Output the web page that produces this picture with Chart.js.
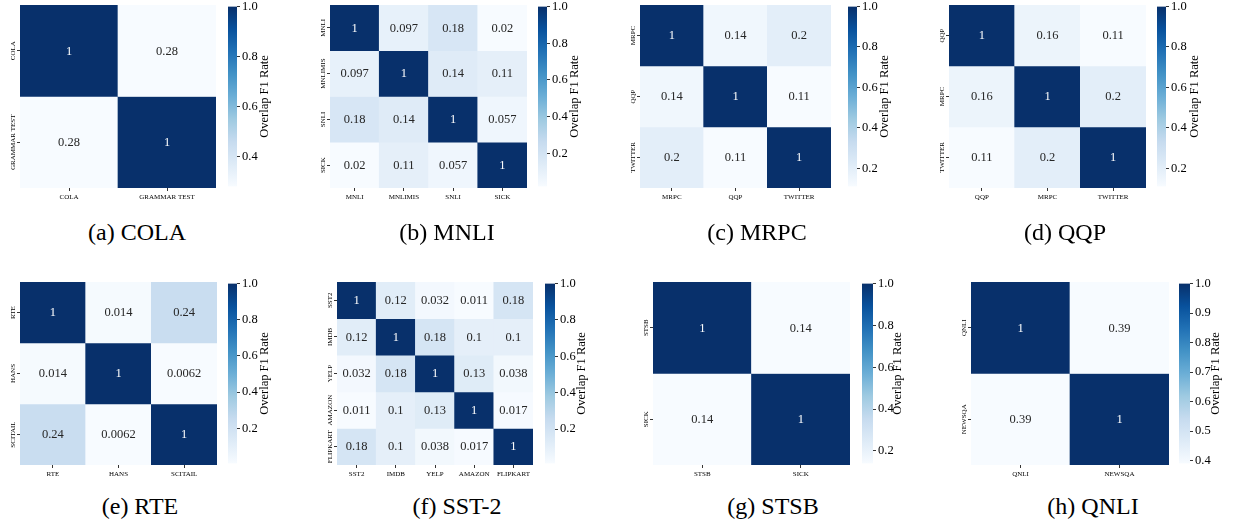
<!DOCTYPE html>
<html>
<head>
<meta charset="utf-8">
<script src="https://cdn.jsdelivr.net/npm/chart.js@4.4.1/dist/chart.umd.min.js"></script>
<style>
  body { margin: 0; background: #fff; }
  #fig { position: relative; width: 1233px; height: 526px; overflow: hidden; background: #fff; }
  canvas { position: absolute; }
  .cap { position: absolute; width: 240px; text-align: center; font: 24px/24px "Liberation Serif", "Times New Roman", serif; color: #000; white-space: pre; }
</style>
</head>
<body>
<div id="fig"></div>
<script>
const colaLabels = ["COLA", "GRAMMAR TEST"];
const colaValues = [[1, 0.28], [0.28, 1]];

const mnliLabels = ["MNLI", "MNLIMIS", "SNLI", "SICK"];
const mnliValues = [
    [1, 0.097, 0.18, 0.02],
    [0.097, 1, 0.14, 0.11],
    [0.18, 0.14, 1, 0.057],
    [0.02, 0.11, 0.057, 1],
];

const mrpcLabels = ["MRPC", "QQP", "TWITTER"];
const mrpcValues = [[1, 0.14, 0.2], [0.14, 1, 0.11], [0.2, 0.11, 1]];

const qqpLabels = ["QQP", "MRPC", "TWITTER"];
const qqpValues = [[1, 0.16, 0.11], [0.16, 1, 0.2], [0.11, 0.2, 1]];

const rteLabels = ["RTE", "HANS", "SCITAIL"];
const rteValues = [[1, 0.014, 0.24], [0.014, 1, 0.0062], [0.24, 0.0062, 1]];

const sstLabels = ["SST2", "IMDB", "YELP", "AMAZON", "FLIPKART"];
const sstValues = [
    [1, 0.12, 0.032, 0.011, 0.18],
    [0.12, 1, 0.18, 0.1, 0.1],
    [0.032, 0.18, 1, 0.13, 0.038],
    [0.011, 0.1, 0.13, 1, 0.017],
    [0.18, 0.1, 0.038, 0.017, 1],
];

const stsbLabels = ["STSB", "SICK"];
const stsbValues = [[1, 0.14], [0.14, 1]];

const qnliLabels = ["QNLI", "NEWSQA"];
const qnliValues = [[1, 0.39], [0.39, 1]];

// colorbar tick labels
const ticksFrom04 = [0.4, 0.6, 0.8, 1.0];
const ticksFrom02 = [0.2, 0.4, 0.6, 0.8, 1.0];
const ticksQnli = [0.4, 0.5, 0.6, 0.7, 0.8, 0.9, 1.0];

const captions = ["(a) COLA", "(b) MNLI", "(c) MRPC", "(d) QQP", "(e) RTE", "(f) SST-2", "(g) STSB", "(h) QNLI"];

const blues = ["#f7fbff", "#deebf7", "#c6dbef", "#9ecae1", "#6baed6", "#4292c6", "#2171b5", "#08519c", "#08306b"];
const serif = "'Liberation Serif', 'Times New Roman', serif";

// layout of each panel (heatmap box, colorbar, caption)
const panels = [
    { labels: colaLabels, values: colaValues, ticks: ticksFrom04, x: 20, y: 5, w: 196, h: 183, cbX: 228, cbW: 9, titleOff: 28, capX: 137 },
    { labels: mnliLabels, values: mnliValues, ticks: ticksFrom02, x: 330, y: 5, w: 197, h: 183, cbX: 538, cbW: 9, titleOff: 28, capX: 447 },
    { labels: mrpcLabels, values: mrpcValues, ticks: ticksFrom02, x: 640, y: 5, w: 191, h: 183, cbX: 848, cbW: 9, titleOff: 28, capX: 757 },
    { labels: qqpLabels, values: qqpValues, ticks: ticksFrom02, x: 949, y: 5, w: 197, h: 183, cbX: 1157, cbW: 9, titleOff: 29, capX: 1065 },
    { labels: rteLabels, values: rteValues, ticks: ticksFrom02, x: 20, y: 282, w: 197, h: 183, cbX: 228, cbW: 9, titleOff: 28, capX: 140 },
    { labels: sstLabels, values: sstValues, ticks: ticksFrom02, x: 337, y: 282, w: 196, h: 183, cbX: 545, cbW: 10, titleOff: 27, capX: 457 },
    { labels: stsbLabels, values: stsbValues, ticks: ticksFrom02, x: 653, y: 282, w: 197, h: 183, cbX: 862, cbW: 11, titleOff: 25, capX: 773 },
    { labels: qnliLabels, values: qnliValues, ticks: ticksQnli, x: 971, y: 282, w: 198, h: 183, cbX: 1179, cbW: 11, titleOff: 26, capX: 1093 },
];

const fig = document.getElementById("fig");

function addCanvas(left, top, width, height) {
    const c = document.createElement("canvas");
    c.width = width;
    c.height = height;
    c.style.left = left + "px";
    c.style.top = top + "px";
    c.style.width = width + "px";
    c.style.height = height + "px";
    fig.appendChild(c);
    return c;
}

function rgb(hex) {
    return [1, 3, 5].map((k) => parseInt(hex.slice(k, k + 2), 16));
}

function blue(t) {
    t = Math.min(1, Math.max(0, t));
    const p = t * (blues.length - 1);
    const i = Math.min(Math.floor(p), blues.length - 2);
    const f = p - i;
    const a = rgb(blues[i]);
    const b = rgb(blues[i + 1]);
    return "rgb(" + a.map((v, k) => Math.round(v + (b[k] - v) * f)).join(",") + ")";
}

function fmt(v) {
    return String(Number(v.toPrecision(2)));
}

const tickGrid = {
    display: true,
    offset: false,
    drawOnChartArea: false,
    drawTicks: true,
    tickLength: 3,
    color: "#000",
    lineWidth: 0.8,
};

function heatmap(p) {
    const n = p.labels.length;
    const vmin = Math.min(...p.values.flat());
    const canvas = addCanvas(p.x - 25, p.y - 5, p.w + 30, p.h + 25);

    const cellText = {
        id: "cellText",
        afterDatasetsDraw(chart) {
            const ctx = chart.ctx;
            ctx.save();
            ctx.font = "12.5px " + serif;
            ctx.textAlign = "center";
            ctx.textBaseline = "middle";
            p.values.forEach((row, i) => {
                chart.getDatasetMeta(i).data.forEach((bar, j) => {
                    const t = (row[j] - vmin) / (1 - vmin);
                    ctx.fillStyle = t > 0.5 ? "#fff" : "#262626";
                    ctx.fillText(fmt(row[j]), bar.x, (bar.y + bar.base) / 2 + 0.5);
                });
            });
            ctx.restore();
        },
    };

    const rowLabels = {
        id: "rowLabels",
        afterDraw(chart) {
            const ctx = chart.ctx;
            const ys = chart.scales.y;
            ctx.save();
            ctx.font = "7px " + serif;
            ctx.fillStyle = "#000";
            ctx.textAlign = "center";
            ctx.textBaseline = "middle";
            p.labels.forEach((lab, i) => {
                ctx.save();
                ctx.translate(chart.chartArea.left - 7, ys.getPixelForValue(i + 0.5));
                ctx.rotate(-Math.PI / 2);
                ctx.fillText(lab, 0, 0);
                ctx.restore();
            });
            ctx.restore();
        },
    };

    new Chart(canvas, {
        type: "bar",
        data: {
            labels: p.labels,
            datasets: p.values.map((row, i) => ({
                data: row.map(() => [i, i + 1]),
                backgroundColor: row.map((v) => blue((v - vmin) / (1 - vmin))),
                borderWidth: 0,
                barPercentage: 1,
                categoryPercentage: 1,
                grouped: false,
            })),
        },
        options: {
            responsive: false,
            animation: false,
            events: [],
            layout: { padding: { top: 5, right: 5, left: 0, bottom: 0 } },
            plugins: {
                legend: { display: false },
                tooltip: { enabled: false },
            },
            scales: {
                x: {
                    grid: tickGrid,
                    border: { display: false },
                    ticks: {
                        font: { family: serif, size: 7 },
                        color: "#000",
                        padding: 2,
                        maxRotation: 0,
                        autoSkip: false,
                    },
                    afterFit: (s) => { s.height = 20; },
                },
                y: {
                    type: "linear",
                    min: 0,
                    max: n,
                    reverse: true,
                    grid: tickGrid,
                    border: { display: false },
                    ticks: { display: false },
                    afterBuildTicks: (s) => {
                        s.ticks = p.labels.map((_, i) => ({ value: i + 0.5 }));
                    },
                    afterFit: (s) => { s.width = 25; },
                },
            },
        },
        plugins: [cellText, rowLabels],
    });
}

function colorbar(p) {
    const vmin = Math.min(...p.values.flat());
    const W = 80;
    const canvas = addCanvas(p.cbX, p.y - 8, W, p.h + 16);

    const cbTitle = {
        id: "cbTitle",
        afterDraw(chart) {
            const ctx = chart.ctx;
            const a = chart.chartArea;
            ctx.save();
            ctx.font = "12.5px " + serif;
            ctx.fillStyle = "#000";
            ctx.textAlign = "center";
            ctx.textBaseline = "middle";
            ctx.translate(a.right + p.titleOff, (a.top + a.bottom) / 2);
            ctx.rotate(-Math.PI / 2);
            ctx.fillText("Overlap F1 Rate", 0, 0);
            ctx.restore();
        },
    };

    new Chart(canvas, {
        type: "bar",
        data: {
            labels: [""],
            datasets: [{
                data: [[vmin, 1]],
                backgroundColor: (c) => {
                    const a = c.chart.chartArea;
                    if (!a) return blues[0];
                    const g = c.chart.ctx.createLinearGradient(0, a.bottom, 0, a.top);
                    blues.forEach((col, i) => g.addColorStop(i / (blues.length - 1), col));
                    return g;
                },
                borderWidth: 0,
                barPercentage: 1,
                categoryPercentage: 1,
            }],
        },
        options: {
            responsive: false,
            animation: false,
            events: [],
            layout: { padding: { top: 8, bottom: 8, left: 0, right: 0 } },
            plugins: {
                legend: { display: false },
                tooltip: { enabled: false },
            },
            scales: {
                x: { display: false },
                y: {
                    position: "right",
                    min: vmin,
                    max: 1,
                    grid: tickGrid,
                    border: { display: false },
                    ticks: {
                        font: { family: serif, size: 12.5 },
                        color: "#000",
                        padding: 2,
                        callback: (v) => v.toFixed(1),
                    },
                    afterBuildTicks: (s) => {
                        s.ticks = p.ticks.map((v) => ({ value: v }));
                    },
                    afterFit: (s) => { s.width = W - p.cbW; },
                },
            },
        },
        plugins: [cbTitle],
    });
}

panels.forEach((p, k) => {
    heatmap(p);
    colorbar(p);
    const cap = document.createElement("div");
    cap.className = "cap";
    cap.textContent = captions[k];
    cap.style.left = (p.capX - 120) + "px";
    cap.style.top = (p.y === 5 ? 220 : 494) + "px";
    fig.appendChild(cap);
});
</script>
</body>
</html>
